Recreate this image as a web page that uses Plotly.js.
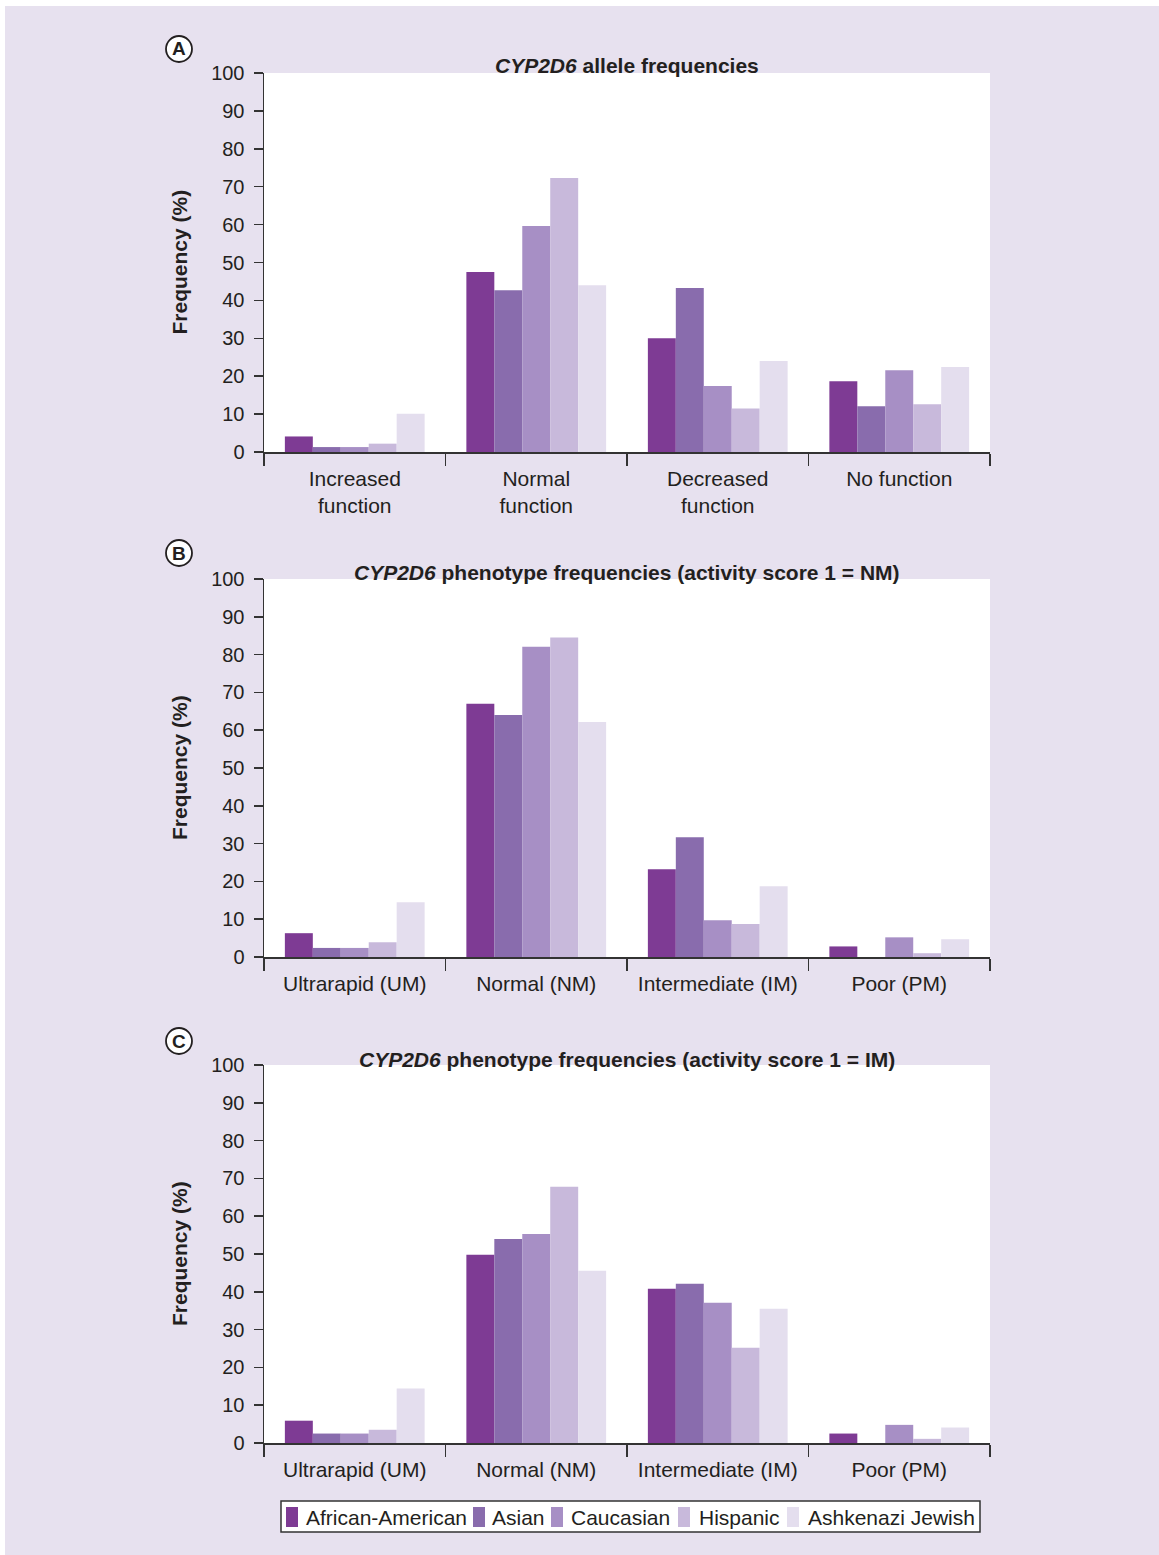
<!DOCTYPE html>
<html>
<head>
<meta charset="utf-8">
<script src="https://cdn.plot.ly/plotly-3.0.1.min.js"></script>
<style>html,body{margin:0;padding:0;background:#fff;}#chart{width:1159px;height:1555px;}</style>
</head>
<body>
<div id="chart"></div>
<script>
// ---- data ----
const groups = ["African-American", "Asian", "Caucasian", "Hispanic", "Ashkenazi Jewish"];
const colors = ["#7E3B94", "#896CAD", "#A78FC5", "#C8B9DB", "#E4DEEE"];

const alleleCategories = ["Increased<br>function", "Normal<br>function", "Decreased<br>function", "No function"];
const phenoCategories = ["Ultrarapid (UM)", "Normal (NM)", "Intermediate (IM)", "Poor (PM)"];

// Panel A: allele frequencies (per group across categories)
const alleleAfricanAmerican = [4.1, 47.5, 30.0, 18.7];
const alleleAsian           = [1.3, 42.7, 43.3, 12.1];
const alleleCaucasian       = [1.3, 59.6, 17.4, 21.6];
const alleleHispanic        = [2.2, 72.3, 11.5, 12.6];
const alleleAshkenazi       = [10.1, 44.0, 24.0, 22.4];

// Panel B: phenotype frequencies (activity score 1 = NM)
const nmAfricanAmerican = [6.3, 67.0, 23.2, 2.8];
const nmAsian           = [2.4, 64.0, 31.7, 0];
const nmCaucasian       = [2.4, 82.1, 9.7, 5.2];
const nmHispanic        = [3.9, 84.5, 8.7, 1.0];
const nmAshkenazi       = [14.5, 62.2, 18.7, 4.7];

// Panel C: phenotype frequencies (activity score 1 = IM)
const imAfricanAmerican = [5.9, 49.8, 40.8, 2.5];
const imAsian           = [2.5, 54.0, 42.1, 0];
const imCaucasian       = [2.5, 55.3, 37.1, 4.8];
const imHispanic        = [3.5, 67.8, 25.2, 1.1];
const imAshkenazi       = [14.4, 45.6, 35.5, 4.1];

const titles = [
  "<b><i>CYP2D6</i> allele frequencies</b>",
  "<b><i>CYP2D6</i> phenotype frequencies (activity score 1 = NM)</b>",
  "<b><i>CYP2D6</i> phenotype frequencies (activity score 1 = IM)</b>"
];
const panelLetters = ["A", "B", "C"];
const yTicks = [0, 10, 20, 30, 40, 50, 60, 70, 80, 90, 100];

// ---- layout constants (pixels) ----
const W = 1159, H = 1555;
const panels = [
  {cats: alleleCategories, series: [alleleAfricanAmerican, alleleAsian, alleleCaucasian, alleleHispanic, alleleAshkenazi], top: 73, bottom: 452, titleY: 65, letterY: 49, xa: "x", ya: "y"},
  {cats: phenoCategories, series: [nmAfricanAmerican, nmAsian, nmCaucasian, nmHispanic, nmAshkenazi], top: 579, bottom: 957, titleY: 573, letterY: 553, xa: "x2", ya: "y2"},
  {cats: phenoCategories, series: [imAfricanAmerican, imAsian, imCaucasian, imHispanic, imAshkenazi], top: 1065, bottom: 1443, titleY: 1059, letterY: 1041, xa: "x3", ya: "y3"}
];
const legendBox = {x0: 281, x1: 980, y0: 1501, y1: 1532};
const legendSymbolX = [286, 473, 551, 678, 787];
const legendTextX = [304, 490, 569, 697, 806];

const FONT = "Liberation Sans, Arial, Helvetica, sans-serif";
const TXT = "#231F20";
const plotL = 264, plotR = 990;
const px = v => v / W;
const py = v => 1 - v / H;

const traces = [];
const layout = {
  width: W, height: H,
  margin: {l: 0, r: 0, t: 0, b: 0},
  paper_bgcolor: "#E7E1EF",
  plot_bgcolor: "#FFFFFF",
  font: {family: FONT, color: TXT},
  barmode: "group",
  bargap: 0.23,
  bargroupgap: 0,
  showlegend: false,
  shapes: [
    {type: "rect", xref: "paper", yref: "paper", x0: 0, x1: 1, y0: py(6), y1: 1, fillcolor: "#FFFFFF", line: {width: 0}},
    {type: "rect", xref: "paper", yref: "paper", x0: 0, x1: px(5), y0: 0, y1: 1, fillcolor: "#FFFFFF", line: {width: 0}}
  ],
  annotations: []
};

panels.forEach((p, i) => {
  const n = i === 0 ? "" : String(i + 1);
  p.series.forEach((vals, k) => {
    traces.push({
      type: "bar",
      name: groups[k],
      x: p.cats,
      y: vals,
      xaxis: p.xa,
      yaxis: p.ya,
      marker: {color: colors[k], line: {width: 0}},
      hoverinfo: "skip"
    });
  });
  layout["xaxis" + n] = {
    domain: [px(plotL), px(plotR)],
    anchor: "y" + n,
    type: "category",
    showline: true, linecolor: "#333333", linewidth: 1.5,
    ticks: "outside", tickson: "boundaries", ticklen: 12, tickwidth: 1.5, tickcolor: "#333333",
    ticklabelstandoff: 7,
    tickfont: {family: FONT, size: 21, color: TXT},
    showgrid: false, zeroline: false, fixedrange: true
  };
  layout["yaxis" + n] = {
    domain: [py(p.bottom), py(p.top)],
    anchor: "x" + n,
    range: [0, 100],
    tickvals: yTicks,
    ticktext: yTicks.map(String),
    showline: true, linecolor: "#333333", linewidth: 1.5,
    ticks: "outside", ticklen: 9, tickwidth: 1.5, tickcolor: "#333333",
    ticklabelstandoff: 5,
    tickfont: {family: FONT, size: 20, color: TXT},
    showgrid: false, zeroline: false, fixedrange: true
  };
  // panel title
  layout.annotations.push({
    xref: "paper", yref: "paper",
    x: px(627), y: py(p.titleY),
    xanchor: "center", yanchor: "middle",
    text: titles[i], showarrow: false,
    font: {family: FONT, size: 21, color: TXT}
  });
  // y axis title
  layout.annotations.push({
    xref: "paper", yref: "paper",
    x: px(179), y: py((p.top + p.bottom) / 2),
    xanchor: "center", yanchor: "middle",
    text: "<b>Frequency (%)</b>", textangle: -90, showarrow: false,
    font: {family: FONT, size: 21, color: TXT}
  });
  // circled letter
  const cx = 179, cy = p.letterY, r = 13;
  layout.shapes.push({
    type: "circle", xref: "paper", yref: "paper",
    x0: px(cx - r), x1: px(cx + r), y0: py(cy + r), y1: py(cy - r),
    fillcolor: "#FFFFFF", line: {color: TXT, width: 1.8}
  });
  layout.annotations.push({
    xref: "paper", yref: "paper",
    x: px(cx), y: py(cy),
    xanchor: "center", yanchor: "middle",
    text: "<b>" + panelLetters[i] + "</b>", showarrow: false,
    font: {family: FONT, size: 19, color: TXT}
  });
});

// legend (box, colour swatches, labels)
layout.shapes.push({
  type: "rect", xref: "paper", yref: "paper",
  x0: px(legendBox.x0), x1: px(legendBox.x1), y0: py(legendBox.y1), y1: py(legendBox.y0),
  fillcolor: "#FFFFFF", line: {color: "#333333", width: 1.5}
});
groups.forEach((g, k) => {
  layout.shapes.push({
    type: "rect", xref: "paper", yref: "paper",
    x0: px(legendSymbolX[k]), x1: px(legendSymbolX[k] + 12),
    y0: py(1527), y1: py(1507),
    fillcolor: colors[k], line: {width: 0}
  });
  layout.annotations.push({
    xref: "paper", yref: "paper",
    x: px(legendTextX[k]), y: py(1517),
    xanchor: "left", yanchor: "middle",
    text: g, showarrow: false,
    font: {family: FONT, size: 21, color: TXT}
  });
});

Plotly.newPlot("chart", traces, layout, {staticPlot: true, displayModeBar: false});
</script>
</body>
</html>
